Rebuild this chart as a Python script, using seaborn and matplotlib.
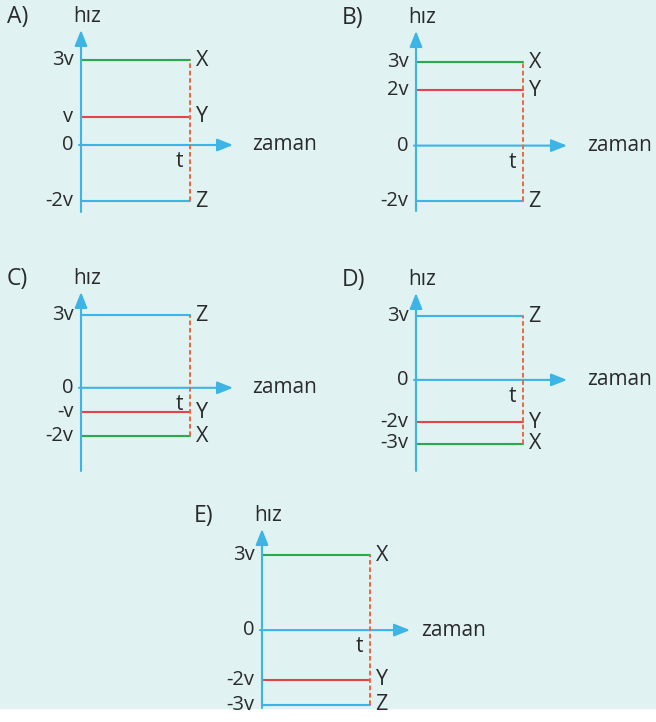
import numpy as np
import pandas as pd
import seaborn as sns
import matplotlib.pyplot as plt
from matplotlib.patches import Rectangle

# --- data: speed of each body (in units of v), constant until time t ---
panels = ["A)", "B)", "C)", "D)", "E)"]
bodies = ["X", "Y", "Z"]
speed_X = [3, 3, -2, -3, 3]
speed_Y = [1, 2, -1, -2, -2]
speed_Z = [-2, -2, 3, 3, -3]
t_end = 1.0

body_colors = {"X": "#2aa94d", "Y": "#e8424a", "Z": "#3cb4e6"}
axis_color = "#3cb4e6"
dash_color = "#ea6a40"
text_color = "#2a2a2a"
bg_color = "#e0f2f2"

# --- layout in pixels (figure is 656 x 722) ---
W, H = 656, 722
axis_x = [81, 416, 81, 416, 262]
line_end = [190, 523, 190, 523, 370]
arrow_tip = [233, 567, 233, 567, 410]
top_px = [30, 31, 292, 293, 529]
bottom_px = [212, 211, 471, 471, 708]
zero_px = [145.0, 145.6, 387.8, 379.9, 630.1]
px_per_v = [28.2, 27.8, 24.2, 21.2, 24.9]
zaman_gap = [19, 20, 19, 20, 11]
letter_x = [7, 342, 7, 342, 194]


def tick_text(n):
    if n == 0:
        return "0"
    if n == 1:
        return "v"
    if n == -1:
        return "-v"
    return f"{n}v"


sns.set_style("white")
plt.rcParams["font.family"] = ["Open Sans", "DejaVu Sans"]

fig = plt.figure(figsize=(W / 100, H / 100), dpi=100)
fig.patch.set_facecolor("white")
fig.add_artist(Rectangle((0, (H - 708) / H), 1, 708 / H, transform=fig.transFigure,
                         color=bg_color, zorder=-10))

for i, name in enumerate(panels):
    vals = [speed_X[i], speed_Y[i], speed_Z[i]]
    df = pd.DataFrame({
        "cisim": np.repeat(bodies, 2),
        "zaman": [0.0, t_end] * 3,
        "hiz": np.repeat(vals, 2),
    })

    L, E, T = axis_x[i], line_end[i], arrow_tip[i]
    Tp, B = top_px[i], bottom_px[i]
    y0, ppv = zero_px[i], px_per_v[i]
    ax = fig.add_axes([L / W, (H - B) / H, (T - L) / W, (B - Tp) / H])
    xmax = (T - L) / (E - L) * t_end
    ymin, ymax = (y0 - B) / ppv, (y0 - Tp) / ppv
    ax.set_xlim(0, xmax)
    ax.set_ylim(ymin, ymax)
    ax.set_axis_off()

    sns.lineplot(data=df, x="zaman", y="hiz", hue="cisim", palette=body_colors,
                 estimator=None, sort=False, legend=False, linewidth=1.5, ax=ax, zorder=3)

    # dashed line at t
    ax.plot([t_end, t_end], [min(vals), max(vals)], color=dash_color, lw=1.4,
            ls=(0, (2.4, 1.4)), zorder=4)

    # axes with arrows
    arrow = dict(arrowstyle="-|>,head_length=0.95,head_width=0.38", color=axis_color,
                 lw=1.5, shrinkA=0, shrinkB=0)
    ax.annotate("", xy=(0, ymax), xytext=(0, ymin), arrowprops=arrow, annotation_clip=False)
    ax.annotate("", xy=(xmax, 0), xytext=(-2 / (E - L), 0), arrowprops=arrow,
                annotation_clip=False)

    # tick labels on the speed axis
    for v in sorted(set(vals + [0])):
        ax.annotate(tick_text(v), xy=(0, v), xytext=(-5.5, 0), textcoords="offset points",
                    ha="right", va="center", fontsize=14.5, color=text_color)

    # body names at the end of each line
    for b, v in zip(bodies, vals):
        ax.annotate(b, xy=(t_end, v), xytext=(4, 0), textcoords="offset points",
                    ha="left", va="center", fontsize=15.5, color=text_color)

    ax.annotate("t", xy=(t_end, 0), xytext=(-7.5, -12), textcoords="offset points",
                ha="center", va="center", fontsize=15, color=text_color)
    ax.annotate("zaman", xy=(xmax, 0), xytext=(zaman_gap[i] * 0.72, 0),
                textcoords="offset points", ha="left", va="center", fontsize=15,
                color=text_color, annotation_clip=False)
    ax.annotate("hız", xy=(0, ymax), xytext=(4.5, 10), textcoords="offset points",
                ha="center", va="center", fontsize=15, color=text_color,
                annotation_clip=False)
    fig.text(letter_x[i] / W, 1 - (Tp - 13) / H, name, ha="left", va="center",
             fontsize=16.5, color=text_color)

fig.savefig("out.png", dpi=100)
